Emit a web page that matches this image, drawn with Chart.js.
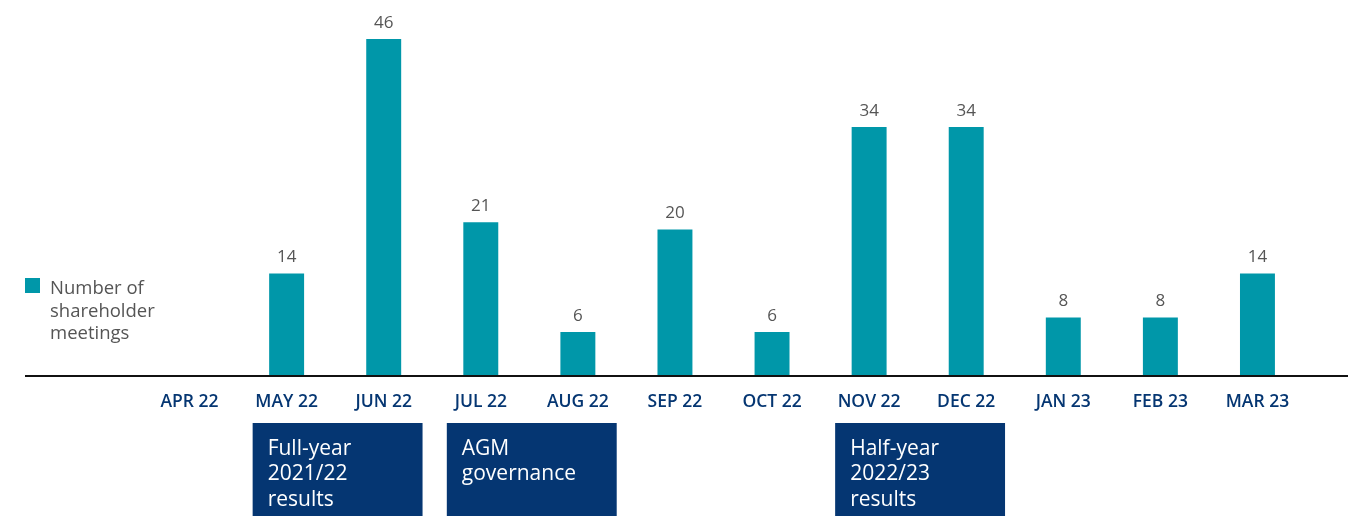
<!DOCTYPE html>
<html>
<head>
<meta charset="utf-8">
<script src="https://cdn.jsdelivr.net/npm/chart.js@4/dist/chart.umd.min.js"></script>
<style>
  html, body { margin: 0; padding: 0; background: #ffffff; }
  #wrap { position: relative; width: 1354px; height: 516px; }
</style>
</head>
<body>
<div id="wrap"><canvas id="meetings"></canvas></div>
<script>
const months = ['APR 22', 'MAY 22', 'JUN 22', 'JUL 22', 'AUG 22', 'SEP 22',
    'OCT 22', 'NOV 22', 'DEC 22', 'JAN 23', 'FEB 23', 'MAR 23'];
const meetings = [0, 14, 46, 21, 6, 20, 6, 34, 34, 8, 8, 14];
const seriesLabel = ['Number of', 'shareholder', 'meetings'];

// reporting periods shown under the axis: first month index and text lines
const periodStarts = [1, 3, 7];
const periodTexts = [
    ['Full-year', '2021/22', 'results'],
    ['AGM', 'governance'],
    ['Half-year', '2022/23', 'results'],
];

const colors = {
    bar: '#0097a9',
    navy: '#053672',
    label: '#555555',
    axis: '#111111',
};

const FONT = "'Open Sans', Lato, sans-serif";

const extras = {
    id: 'extras',
    afterDatasetsDraw(chart) {
        const { ctx } = chart;
        const x = chart.scales.x;
        const y = chart.scales.y;
        const base = y.getPixelForValue(0);
        const step = x.getPixelForValue(1) - x.getPixelForValue(0);

        ctx.save();

        // value labels above bars
        ctx.fillStyle = colors.label;
        ctx.font = `17px ${FONT}`;
        ctx.textAlign = 'center';
        ctx.textBaseline = 'alphabetic';
        chart.getDatasetMeta(0).data.forEach((bar, i) => {
            if (!meetings[i]) return;
            ctx.fillText(String(meetings[i]), bar.x, bar.y - 11);
        });

        // baseline
        ctx.strokeStyle = colors.axis;
        ctx.lineWidth = 2;
        ctx.beginPath();
        ctx.moveTo(25, base);
        ctx.lineTo(1348, base);
        ctx.stroke();

        // legend
        ctx.fillStyle = colors.bar;
        ctx.fillRect(25, 278, 15, 15);
        ctx.fillStyle = colors.label;
        ctx.font = `18.5px ${FONT}`;
        ctx.textAlign = 'left';
        ctx.textBaseline = 'middle';
        seriesLabel.forEach((line, i) => {
            ctx.fillText(line, 50, 289 + i * 22.5);
        });

        // period boxes
        periodStarts.forEach((start, k) => {
            const left = x.getPixelForValue(start) - step * 0.35;
            const top = base + 47;
            ctx.fillStyle = colors.navy;
            ctx.fillRect(left, top, step * 1.75, chart.height - top);
            ctx.fillStyle = '#ffffff';
            ctx.font = `21px ${FONT}`;
            ctx.textBaseline = 'middle';
            periodTexts[k].forEach((line, i) => {
                ctx.fillText(line, left + 15, top + 26 + i * 25.5);
            });
        });

        ctx.restore();
    },
};

new Chart(document.getElementById('meetings'), {
    type: 'bar',
    data: {
        labels: months,
        datasets: [{
            label: seriesLabel.join(' '),
            data: meetings,
            backgroundColor: colors.bar,
            borderWidth: 0,
            barPercentage: 0.6,
            categoryPercentage: 0.6,
        }],
    },
    options: {
        responsive: true,
        maintainAspectRatio: false,
        animation: false,
        layout: {
            padding: { left: 141, right: 48, top: 39, bottom: 0 },
        },
        plugins: {
            legend: { display: false },
            tooltip: { enabled: false },
        },
        scales: {
            x: {
                grid: { display: false },
                border: { display: false },
                ticks: {
                    color: colors.navy,
                    font: { family: FONT, size: 17.5, weight: '600' },
                    padding: 8,
                    maxRotation: 0,
                    autoSkip: false,
                },
                afterFit(scale) { scale.height = 140; },
            },
            y: {
                display: false,
                min: 0,
                max: 46,
            },
        },
    },
    plugins: [extras],
});
</script>
</body>
</html>
